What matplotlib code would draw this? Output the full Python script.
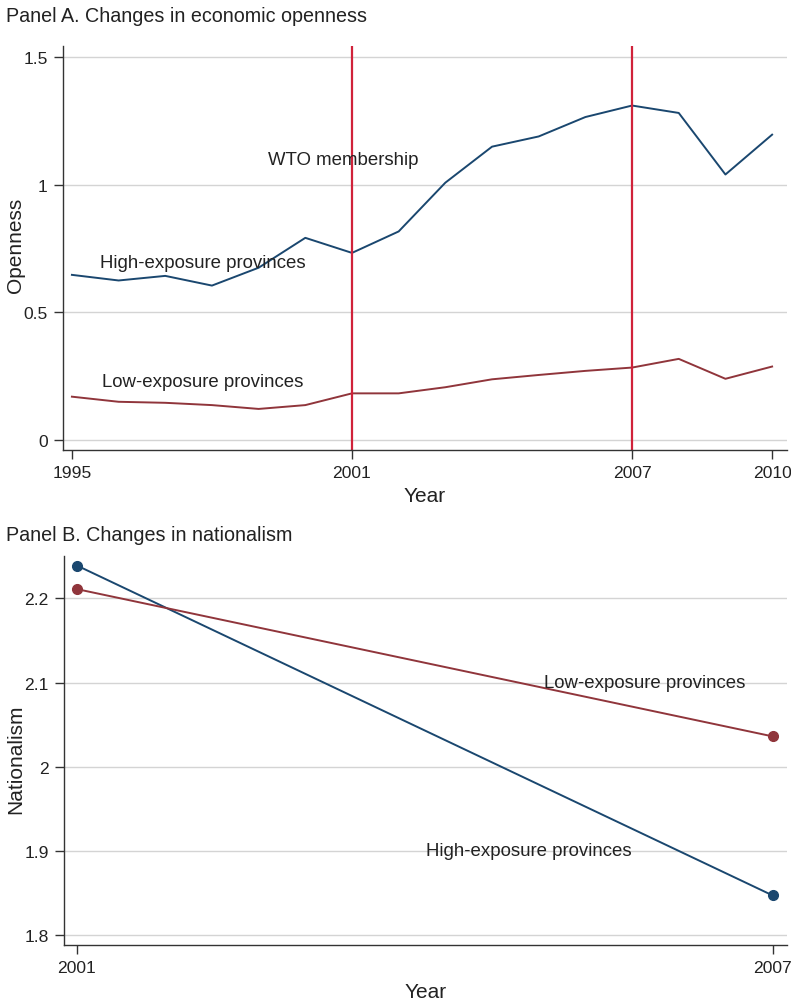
import numpy as np
import matplotlib
matplotlib.use("Agg")
import matplotlib.pyplot as plt

plt.rcParams['font.family'] = ['Liberation Sans', 'DejaVu Sans']

# Panel A data
years_a = [1995, 1996, 1997, 1998, 1999, 2000, 2001, 2002, 2003, 2004, 2005, 2006, 2007, 2008, 2009, 2010]
high_open = [0.647, 0.625, 0.643, 0.605, 0.675, 0.792, 0.733, 0.817, 1.008, 1.149, 1.189, 1.265, 1.310, 1.281, 1.040, 1.196]
low_open = [0.170, 0.150, 0.146, 0.137, 0.122, 0.137, 0.183, 0.183, 0.207, 0.238, 0.255, 0.271, 0.284, 0.318, 0.240, 0.288]
wto_years = [2001, 2007]
xticks_a = [1995, 2001, 2007, 2010]
yticks_a = [0, 0.5, 1, 1.5]
yticklabels_a = ['0', '0.5', '1', '1.5']

# Panel B data
years_b = [2001, 2007]
high_nat = [2.239, 1.847]
low_nat = [2.211, 2.036]
yticks_b = [1.8, 1.9, 2.0, 2.1, 2.2]
yticklabels_b = ['1.8', '1.9', '2', '2.1', '2.2']

blue = '#1a476f'
red = '#90353b'
vred = '#d0223a'
grid = '#d4d4d4'
dark = '#333333'
txt = '#222222'

fig = plt.figure(figsize=(7.91, 10.03), dpi=100)
axA = fig.add_axes([0.0797, 0.5503, 0.9153, 0.4028])
axB = fig.add_axes([0.0809, 0.0571, 0.9141, 0.3876])

def style(ax):
    for s in ['top', 'right']:
        ax.spines[s].set_visible(False)
    for s in ['left', 'bottom']:
        ax.spines[s].set_color(dark)
        ax.spines[s].set_linewidth(1.0)
    ax.tick_params(axis='both', direction='out', length=6.5, width=1, color=dark,
                   labelsize=12.6, labelcolor=txt, pad=4.5)
    ax.yaxis.grid(True, color=grid, linewidth=1.0)
    ax.set_axisbelow(True)

# Panel A
style(axA)
axA.plot(years_a, high_open, color=blue, linewidth=1.4)
axA.plot(years_a, low_open, color=red, linewidth=1.4)
for y in wto_years:
    axA.axvline(y, color=vred, linewidth=1.6)
axA.set_xlim(1994.81, 2010.32)
axA.set_ylim(-0.039, 1.543)
axA.set_xticks(xticks_a)
axA.set_yticks(yticks_a)
axA.set_yticklabels(yticklabels_a)
axA.set_xlabel('Year', fontsize=15, color=txt, labelpad=4)
axA.set_ylabel('Openness', fontsize=15, color=txt)
axA.yaxis.set_label_coords(-0.053, 0.51)
axA.text(1999.2, 1.10, 'WTO membership', fontsize=13.4, color=txt, va='center')
axA.text(1995.6, 0.694, 'High-exposure provinces', fontsize=13.4, color=txt, va='center')
axA.text(1995.65, 0.229, 'Low-exposure provinces', fontsize=13.4, color=txt, va='center')

# Panel B
style(axB)
axB.plot(years_b, high_nat, color=blue, linewidth=1.4, marker='o', markersize=7)
axB.plot(years_b, low_nat, color=red, linewidth=1.4, marker='o', markersize=7)
axB.set_xlim(2000.888, 2007.123)
axB.set_ylim(1.7885, 2.2504)
axB.set_xticks(years_b)
axB.set_yticks(yticks_b)
axB.set_yticklabels(yticklabels_b)
axB.set_xlabel('Year', fontsize=15, color=txt, labelpad=5)
axB.set_ylabel('Nationalism', fontsize=15, color=txt)
axB.yaxis.set_label_coords(-0.054, 0.48)
axB.text(2005.03, 2.1, 'Low-exposure provinces', fontsize=13.4, color=txt, va='center')
axB.text(2004.01, 1.9, 'High-exposure provinces', fontsize=13.4, color=txt, va='center')

fig.text(0.0076, 0.984, 'Panel A. Changes in economic openness', fontsize=14.2, color=txt, va='center')
fig.text(0.0076, 0.4666, 'Panel B. Changes in nationalism', fontsize=14.2, color=txt, va='center')

fig.savefig('out.png', dpi=100)
